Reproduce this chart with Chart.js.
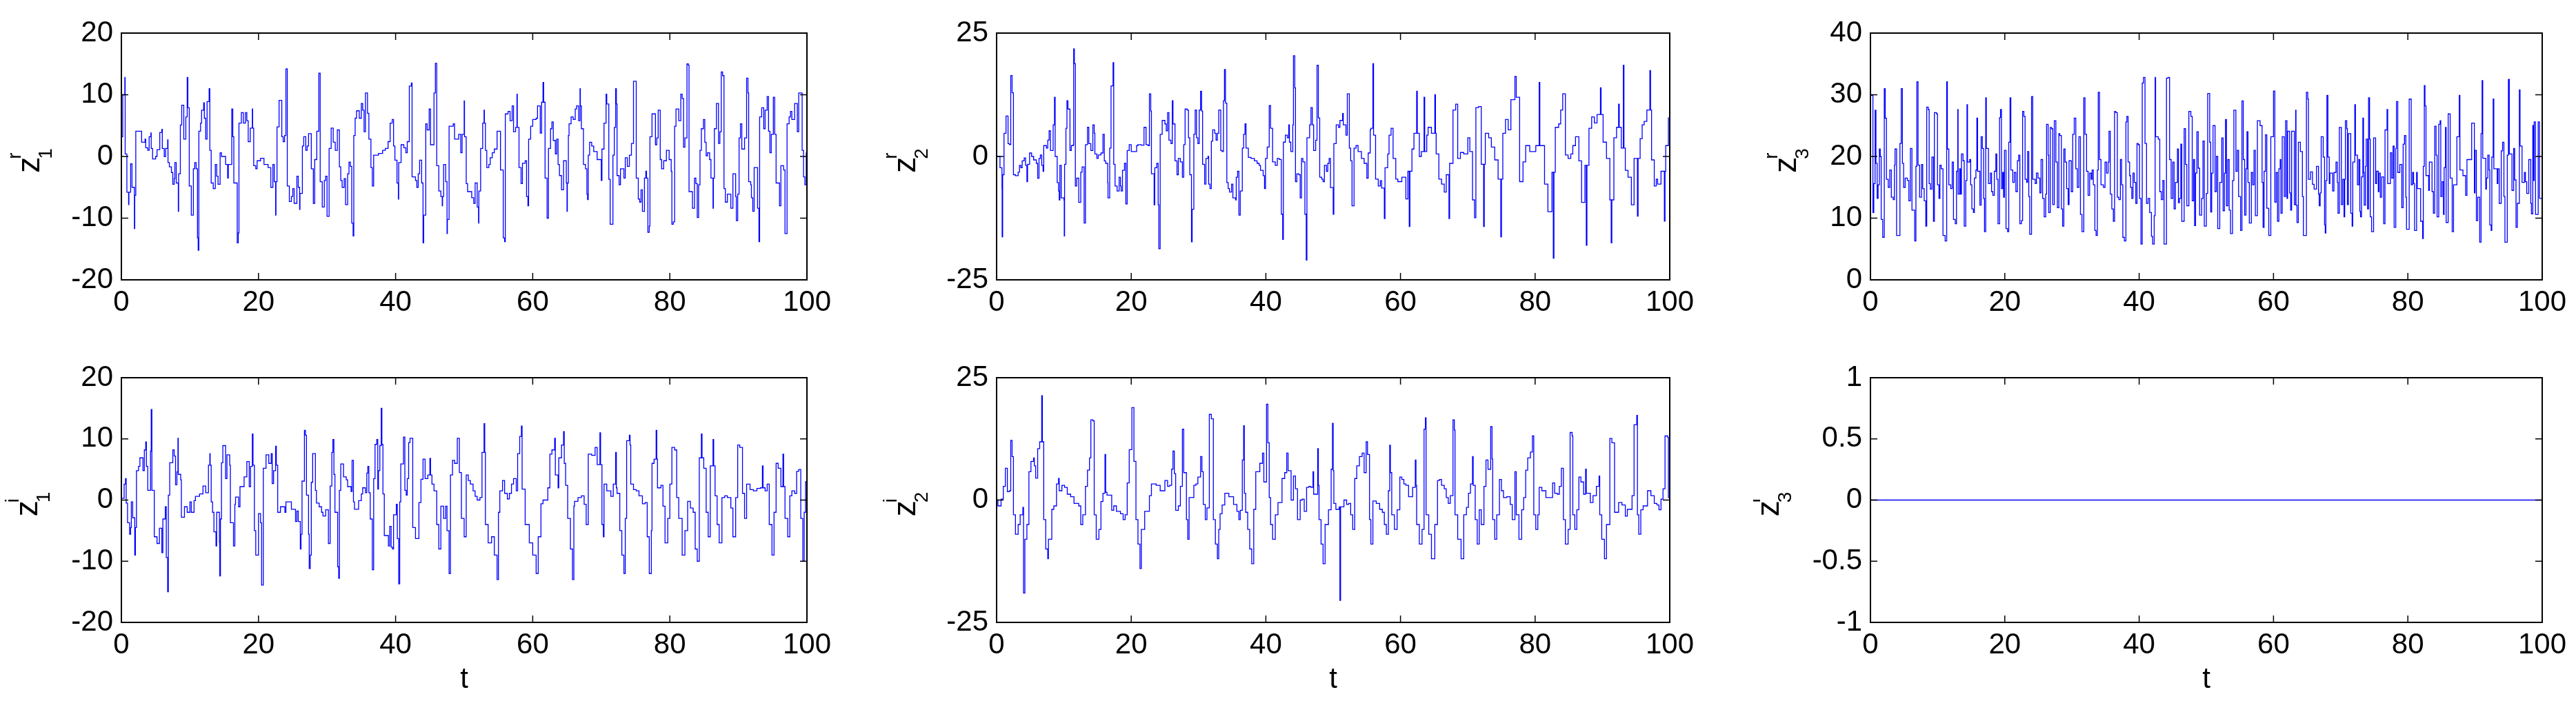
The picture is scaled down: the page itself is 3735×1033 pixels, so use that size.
<!DOCTYPE html>
<html><head><meta charset="utf-8">
<script src="https://cdn.jsdelivr.net/npm/chart.js@4.4.0/dist/chart.umd.min.js"></script>
<style>
html,body{margin:0;padding:0;background:#fff;}
body{width:3735px;height:1033px;position:relative;overflow:hidden;}
canvas{position:absolute;}
</style></head><body>
<script>
// ---------- tick labels ----------
const timeTicks = [0, 20, 40, 60, 80, 100];
const z1rTicks = [-20, -10, 0, 10, 20];
const z2rTicks = [-25, 0, 25];
const z3rTicks = [0, 10, 20, 30, 40];
const z1iTicks = [-20, -10, 0, 10, 20];
const z2iTicks = [-25, 0, 25];
const z3iTicks = [-1, -0.5, 0, 0.5, 1];

// ---------- series: [t, value] at each step change ----------
const z1r = [[0,3.2],[0.2,10],[0.5,12.8],[0.55,0.4],[0.8,-5.8],[1.05,-7.8],[1.1,-5.8],[1.35,-1.2],[1.55,-5],[1.75,-5],[1.9,-11.7],[1.95,-6.3],[2.1,4.1],[2.95,2.3],[3.45,2.8],[3.55,1.4],[3.85,1.0],[4.05,3.2],[4.3,3.8],[4.35,1.3],[4.55,-0.4],[5.0,0],[5.2,1.1],[5.6,3.9],[5.9,4.4],[5.97,1.3],[6.25,0],[6.45,1.3],[6.75,2.7],[6.8,-1],[7.0,-1.7],[7.3,-2.6],[7.5,-4.5],[7.7,-3.6],[7.8,-1],[8.0,-4.3],[8.3,-8.9],[8.35,-2.8],[8.6,5.1],[8.8,8.3],[9.1,2.8],[9.4,6.4],[9.6,12.8],[9.7,7.9],[9.9,-4.8],[10.2,-9.5],[10.5,-2],[10.7,-1],[10.9,-2],[11.1,-13.2],[11.2,-15.2],[11.3,4.1],[11.55,5.4],[11.7,7.5],[12.0,8.7],[12.1,6.2],[12.3,2.8],[12.5,8.9],[12.8,11],[12.9,1],[13.1,-4.3],[13.4,-5.2],[13.7,-1.3],[13.9,-3.2],[14.1,-4.5],[14.4,0.6],[14.6,0],[15.2,-1.3],[15.5,-3.5],[15.6,-1.3],[16.1,7.7],[16.25,3.2],[16.4,-4.3],[16.9,-14],[17.05,-12.4],[17.15,5.4],[17.5,7.1],[17.8,5.4],[18.1,7.1],[18.3,5.8],[18.5,2.4],[18.8,4.6],[19.1,7.7],[19.15,4.6],[19.3,-1.5],[19.6,-2],[19.8,-0.7],[20.3,-0.3],[20.8,-1.3],[21.4,-1.8],[21.8,-5],[22.1,-1.3],[22.3,-4.1],[22.5,-9.5],[22.55,-4.1],[22.7,4.8],[23.0,9.1],[23.4,3.2],[23.6,2.4],[23.8,3.4],[24.0,14.2],[24.2,-4.8],[24.5,-7.3],[24.8,-6.5],[25.0,-5.2],[25.2,-7.6],[25.6,-3.2],[25.8,-5],[26.0,-8.6],[26.05,-6],[26.4,1.7],[26.6,3.2],[26.9,1],[27.1,1.7],[27.3,3.7],[27.7,-2],[28.0,-7.6],[28.2,-0.5],[28.5,4.1],[28.8,13.5],[29.0,-4.1],[29.3,-8.2],[29.6,-3.9],[29.8,-3.2],[30.0,-9.7],[30.3,1.3],[30.6,4.6],[30.9,2.3],[31.2,1.0],[31.5,4.3],[31.8,-1.7],[32.0,-3.9],[32.2,-5],[32.5,-3.6],[32.7,-7.8],[33.0,-2.8],[33.2,-0.9],[33.4,-1.6],[33.6,-10.8],[33.8,-12.9],[33.9,3.4],[34.1,6.2],[34.3,7.4],[34.7,6.2],[35.0,8.6],[35.2,7.5],[35.4,4.0],[35.6,10.3],[35.9,7],[36.1,2.8],[36.4,-1.8],[36.6,-4.8],[36.8,0.2],[37.5,0.5],[38.1,1.0],[38.5,1.3],[38.9,2.4],[39.2,5.4],[39.5,6.0],[39.7,1.7],[39.9,-0.6],[40.2,-4.3],[40.4,-6.9],[40.45,-1],[40.8,1.9],[41.2,1.4],[41.5,0.6],[41.7,2.4],[42.0,11.4],[42.3,11.9],[42.4,-3.3],[42.9,-3.9],[43.1,-5],[43.3,-2.8],[43.5,-0.6],[43.8,-4.3],[44.0,-14],[44.1,-9.5],[44.4,5.3],[44.6,4.3],[44.9,7.7],[45.1,1.9],[45.6,10.3],[45.8,15.1],[46.0,-1.5],[46.3,-5.6],[46.6,-6.5],[46.8,-8],[46.85,-6.5],[47.0,-1.3],[47.3,-4.1],[47.5,-12.5],[47.55,-10.2],[47.8,4.9],[48.4,5.3],[48.6,2.8],[49.2,3.6],[49.5,0.6],[49.7,3.6],[50.0,9],[50.05,3.2],[50.3,-4.4],[50.5,-5.7],[51.1,-6.7],[51.4,-7.6],[51.6,-4.3],[51.9,-8.2],[52.1,-10.8],[52.15,-5.6],[52.4,1.3],[52.7,5.4],[52.9,7.5],[52.95,5.4],[53.1,1],[53.3,-1.8],[53.6,-1.3],[53.8,-0.2],[54.1,0.6],[54.4,1.2],[54.8,4.1],[55.3,-2.2],[55.7,-13.2],[55.9,-13.8],[56.0,6.9],[56.4,7.3],[56.7,5.8],[57.0,8.2],[57.2,4],[57.5,4.7],[57.7,10.1],[57.75,4.7],[58.0,-1.8],[58.3,-4.4],[58.5,-1.1],[58.9,-0.7],[59.1,-6.5],[59.3,-8],[59.4,2.8],[59.7,4.9],[60.0,6],[60.5,6.2],[60.7,8.2],[61.1,3.8],[61.3,8.8],[61.5,12],[61.6,8.8],[61.8,-3.5],[62.1,-10],[62.3,1.3],[62.6,4.5],[62.8,5.6],[63.0,2.6],[63.3,0.4],[63.5,2.8],[63.7,-1.3],[63.9,-3.1],[64.2,-5.4],[64.5,-0.7],[64.9,-4.3],[65.0,-8.9],[65.05,-4.3],[65.2,3.4],[65.3,5.3],[65.6,6.4],[65.9,6],[66.2,7.7],[66.4,8.2],[66.7,5.8],[66.9,11],[66.95,8.2],[67.1,4.5],[67.4,-1.3],[67.7,-2],[67.9,-6.1],[68.0,-7],[68.1,0.2],[68.3,2.3],[68.6,1.7],[68.9,0.8],[69.4,-0.5],[70.0,-3.9],[70.1,1.2],[70.4,5.4],[70.7,10.1],[70.8,8.5],[71.1,-3.7],[71.3,-11],[71.7,0.2],[71.9,4.7],[72.1,11],[72.2,8.5],[72.3,-3.1],[72.6,-4.6],[72.8,-2],[73.3,-3.5],[73.5,-0.2],[73.8,-1.6],[74.1,0.2],[74.4,2.1],[74.7,12.2],[75.1,-3.5],[75.4,-6.9],[75.6,-7.4],[75.8,-5.4],[76.0,-8.9],[76.3,-3.5],[76.5,-2.4],[76.6,-3.5],[76.8,-12.3],[77.0,-11.3],[77.1,3.2],[77.4,6.9],[77.9,1.9],[78.1,3],[78.3,7.5],[78.6,-0.5],[78.8,-2],[79.1,-0.7],[79.5,1],[79.9,-0.5],[80.2,-2.4],[80.3,-11],[80.5,-10.6],[80.7,4.9],[80.9,7.7],[81.3,5.8],[81.6,10.1],[81.8,9.4],[82.0,1.5],[82.2,3],[82.5,15],[82.7,14.8],[82.8,-5.7],[83.3,-8.4],[83.6,-3.5],[83.8,-4.4],[84.0,-9.9],[84.2,-4.6],[84.4,1],[84.6,4.5],[84.9,6],[85.1,2.3],[85.3,0.1],[85.5,0.6],[85.8,-0.5],[86.0,-3.5],[86.3,-8.4],[86.35,-3.5],[86.5,4.5],[86.8,8.6],[87.1,2.1],[87.3,4],[87.5,13.7],[87.7,13.1],[87.9,-5.2],[88.1,-7.4],[88.4,-6.1],[88.9,-8.4],[89.2,-2.8],[89.6,-6.5],[89.7,-10.4],[89.9,-6.1],[90.1,3],[90.3,5.3],[90.5,1.2],[90.9,3],[91.2,12.7],[91.4,10.3],[91.5,-4.1],[91.8,-4.6],[91.9,-6.7],[92.1,-8.9],[92.3,-1.8],[92.8,-8.4],[93.0,-13.8],[93.1,6.4],[93.4,7.9],[93.7,4.5],[93.9,7.5],[94.2,9.7],[94.4,4.1],[94.6,0.6],[94.8,3.6],[95.1,9.6],[95.3,3.6],[95.5,-4.3],[96.0,-8],[96.2,-1.5],[96.6,-2.2],[96.8,-12.5],[97.1,5.3],[97.4,6.4],[97.6,7.3],[97.8,6],[98.2,8.6],[98.6,4],[98.8,10.3],[99.3,1],[99.5,-3.3],[99.7,-4.6],[99.9,0.6],[100,0.6]];

const z2r = [[0,0],[0.5,-2.3],[0.8,-6.5],[0.82,-16.3],[0.9,-3.7],[1.1,4.7],[1.4,8.2],[1.7,2.6],[1.9,2.4],[2.1,16.4],[2.3,12.9],[2.5,-3.7],[2.8,-3.9],[3.2,-3.2],[3.4,-1.8],[3.6,-2.3],[3.8,-0.9],[4.1,-0.3],[4.3,-1.8],[4.5,-5.1],[4.6,-1.6],[4.9,0.7],[5.2,0],[5.5,-0.7],[5.9,-1.4],[6.1,-4.4],[6.3,-0.4],[6.5,0.3],[6.7,-1.8],[6.9,-3.0],[7.0,2.2],[7.4,1.7],[7.6,3.3],[7.8,5.2],[8.0,1.2],[8.4,6.4],[8.6,12],[8.7,0],[9.0,-5.3],[9.2,-7],[9.3,-8.8],[9.4,-1.8],[9.6,-8.4],[10.0,-8.8],[10.05,-16.1],[10.1,-1.6],[10.3,5.7],[10.45,11.3],[10.6,9.6],[10.9,1.2],[11.1,2.2],[11.4,2.4],[11.45,21.8],[11.55,18.8],[11.7,-6],[11.9,-4.4],[12.2,-9.3],[12.5,-3.2],[12.7,-2.1],[13.0,-13.5],[13.2,2.4],[13.5,5.9],[13.7,2.6],[14.0,1.2],[14.3,6.4],[14.5,4.7],[14.6,0.5],[14.9,-0.4],[15.1,0.3],[15.5,0.7],[15.8,4.5],[16.0,-0.9],[16.2,-1.4],[16.5,-5.3],[16.55,-8.4],[16.8,1.7],[17.0,14.3],[17.3,19],[17.4,-1.6],[17.6,-6],[17.9,-7],[18.2,-4.2],[18.4,-6],[18.5,-7],[18.7,-2.8],[19.0,-1.4],[19.2,-9.6],[19.4,1.2],[19.7,2.4],[20.0,1],[20.8,2.2],[21.0,2.4],[21.5,2.3],[21.9,5.9],[22.2,2.4],[22.5,2.2],[22.7,12.7],[22.9,9.2],[23.0,-3.5],[23.4,-9.8],[23.5,-2.3],[23.8,-1.4],[24.0,-9.8],[24.1,-18.7],[24.3,4.5],[24.6,7.3],[25.0,6.6],[25.2,5.2],[25.4,8.9],[25.6,3.3],[25.9,2.6],[26.1,11.3],[26.2,6.6],[26.5,-0.9],[26.8,-3.7],[27.0,-0.4],[27.3,-1.1],[27.6,-4.2],[27.8,2.4],[28.0,9.6],[28.3,9.4],[28.5,3.8],[28.7,-3.7],[28.95,-17.3],[29.05,-10.7],[29.3,4.5],[29.5,9.4],[29.7,3.8],[29.9,2.6],[30.1,9.4],[30.3,13.2],[30.45,9.2],[30.6,-1.6],[30.9,-5.6],[31.1,-0.4],[31.4,0],[31.5,-5.6],[31.7,-6.5],[31.9,3.1],[32.1,5.4],[32.4,4.7],[32.6,3.3],[32.8,4.7],[33.0,9.4],[33.3,1.2],[33.5,1],[33.7,11.3],[33.85,17.6],[34.0,10.8],[34.2,-5.3],[34.4,-6.5],[34.6,-7.2],[34.9,-5.6],[35.1,-8.4],[35.5,-8.8],[35.6,-4.2],[35.8,-3],[36.0,-11.9],[36.2,-7],[36.5,1.7],[36.7,4.5],[36.9,6.6],[37.05,1.7],[37.4,-0.2],[37.8,-0.4],[38.3,-0.9],[38.7,-1.4],[39.0,-1.8],[39.2,-2.8],[39.6,-3.9],[39.8,-6.5],[39.95,-0.4],[40.2,1.9],[40.5,10.3],[40.7,5.7],[41.0,-1.1],[41.4,-1.8],[41.7,-0.4],[42.0,-0.6],[42.3,-11.7],[42.5,-16.8],[42.6,2.9],[42.9,4.3],[43.2,3.8],[43.4,6.4],[43.5,2.9],[43.7,1],[44.0,6.4],[44.1,20.4],[44.3,13.9],[44.4,-5.1],[44.6,-3.5],[44.9,-3.7],[45.1,-8.4],[45.3,-0.4],[45.5,-1.1],[45.8,-11.7],[46.0,-21],[46.1,3.8],[46.5,6.4],[46.7,9.9],[46.9,6.4],[47.1,1.2],[47.4,3.3],[47.6,18.5],[47.8,7.8],[48.0,-4.2],[48.3,-4.6],[48.5,-5.1],[48.7,-1.8],[49.0,-3],[49.2,-1.4],[49.4,-0.4],[49.6,-6.3],[50.0,-11.7],[50.1,2.6],[50.45,6.4],[50.8,5.9],[51.0,7.3],[51.4,8.7],[51.5,6.4],[51.9,4.3],[52.1,12.7],[52.4,1.7],[52.6,-0.9],[52.8,-10],[53.1,1.7],[53.4,2.2],[53.7,1],[54.2,-0.4],[54.6,-1.4],[55.0,-4.4],[55.2,0.7],[55.5,5.4],[55.6,5.7],[55.9,18.8],[56.0,4.3],[56.3,-4.6],[56.7,-6],[57.0,-4.9],[57.2,-6.4],[57.6,-12.6],[57.7,-2.3],[58.1,0.5],[58.3,4.3],[58.6,5.7],[58.9,-0.4],[59.3,-4.6],[59.6,-5.1],[60.2,-4.2],[60.8,-8.6],[61.1,-3],[61.3,-14.2],[61.4,-3],[61.7,1.5],[62.0,4.7],[62.4,13.2],[62.5,4.7],[62.8,0],[63.1,1],[63.5,12],[63.6,1],[63.9,4.3],[64.1,5.9],[64.6,4.7],[65.1,12.5],[65.2,4.7],[65.3,0.5],[65.7,-4.6],[66.1,-5.6],[66.5,-7.2],[66.8,-3.7],[67.2,-12.6],[67.3,-1.4],[67.8,9.4],[68.2,10.6],[68.5,-0.4],[68.9,0.8],[69.4,0.5],[70.0,3.8],[70.3,1],[70.7,-8.8],[71.0,-12.4],[71.2,9.9],[71.6,10.1],[72.0,-1.6],[72.35,-14.2],[72.45,-1.6],[72.6,4.7],[73.1,3.8],[73.5,1.9],[74.0,-0.7],[74.5,-4.6],[74.9,-16.3],[75.0,-4.6],[75.2,4.7],[75.6,7.5],[76.0,5.4],[76.4,11.5],[77.0,16.2],[77.2,12],[77.7,-5.1],[78.2,-1.1],[78.6,2.2],[79.2,1],[80.1,2.2],[80.6,15],[80.7,2.2],[81.4,-5.6],[81.9,-11.2],[82.5,-3.2],[82.7,-20.6],[82.8,-3.2],[83.0,5.9],[83.5,6.6],[83.8,9.4],[84.1,12.7],[84.5,0.3],[84.9,-0.4],[85.3,0.5],[85.6,2.2],[86.0,4],[86.5,-0.9],[86.9,-9.3],[87.4,-1.8],[87.6,-18],[87.7,-1.8],[88.0,5.7],[88.4,8],[88.8,6.8],[89.2,8.5],[89.7,13.9],[89.8,8.5],[90.1,2.9],[90.6,-0.4],[91.1,-8.8],[91.3,-17.5],[91.4,-8.8],[91.7,3.8],[92.1,5.9],[92.4,10.6],[92.5,5.9],[92.8,1.7],[93.1,18.5],[93.2,1.7],[93.4,-2.8],[93.8,-4.2],[94.3,-9.8],[94.7,-0.4],[95.2,-12.1],[95.3,-0.4],[95.6,3.6],[95.9,6.4],[96.2,7.1],[96.6,9.4],[97.05,17.4],[97.15,9.4],[97.3,-0.7],[97.7,-6],[98.0,-4.6],[98.2,-5.6],[98.7,-3],[99.2,-13.1],[99.3,-3],[99.4,2.2],[99.8,7.8],[100,7.8]];

const z3r = [[0,29.9],[0.37,10.9],[0.5,15.6],[0.69,27.5],[0.82,18.9],[1.0,13.2],[1.14,15.4],[1.33,21.2],[1.46,20],[1.6,9.8],[1.83,6.9],[2.06,31],[2.2,26.2],[2.38,16.3],[2.65,15],[2.88,17.8],[3.11,13.4],[3.39,13],[3.57,18.6],[3.66,21.2],[3.89,7.2],[4.39,22.1],[4.58,31],[4.76,18.9],[4.94,15],[5.17,16.5],[5.49,16.1],[5.72,12.8],[5.95,21.3],[6.18,11.3],[6.59,6.3],[6.77,18.4],[6.91,32.1],[7.09,18.6],[7.32,13.4],[7.6,18.7],[7.78,14.8],[8.0,12.8],[8.24,8.7],[8.38,28],[8.6,27.6],[8.74,15.6],[8.92,14.7],[9.15,19.9],[9.38,9.5],[9.52,27.1],[9.84,26.9],[9.98,15.4],[10.2,13.2],[10.34,18.6],[10.53,18],[10.8,7.2],[11.12,6.3],[11.35,32.1],[11.45,21.2],[11.67,15.4],[11.95,14.8],[12.17,19.1],[12.36,9.8],[12.63,9.1],[12.81,17.6],[13.0,27.6],[13.05,13.9],[13.27,18],[13.41,13.9],[13.55,20.4],[13.78,19.3],[13.96,8.7],[14.19,16.1],[14.37,28.4],[14.45,19.1],[14.78,19.5],[14.92,15.4],[15.1,11.5],[15.33,10.9],[15.47,16.5],[15.7,17.8],[15.84,26.2],[15.95,17.6],[16.29,12.1],[16.48,23.2],[16.66,21.3],[16.84,13.2],[16.98,7.8],[17.16,29.5],[17.25,21.3],[17.57,15.6],[17.85,17.3],[18.03,14.3],[18.22,13.7],[18.44,17.6],[18.67,20.4],[18.81,16.3],[18.99,9.1],[19.22,26.3],[19.36,27.6],[19.5,14.8],[19.68,17.4],[19.82,13.4],[19.95,21],[20.18,8.3],[20.41,7.8],[20.59,22.3],[20.78,29.5],[20.9,17.8],[21.19,15.8],[21.42,17.4],[21.65,14.3],[21.88,19.3],[22.06,20.2],[22.24,9.1],[22.47,9.6],[22.65,27.3],[22.84,26.5],[23.02,16.3],[23.25,15.8],[23.39,20.8],[23.57,13.5],[23.71,7.4],[23.98,29.7],[24.16,16.3],[24.53,15.6],[24.71,17.3],[24.94,16.5],[25.22,14.1],[25.4,19.5],[25.63,13.2],[25.86,10.2],[26.09,13.9],[26.22,25.2],[26.45,20.2],[26.54,10.9],[26.77,24.7],[26.96,24.5],[27.14,12.2],[27.37,25.8],[27.6,19.1],[27.83,11.7],[28.05,23.7],[28.19,23.4],[28.42,11.5],[28.6,8.7],[28.79,21.2],[28.97,19.1],[29.2,14.8],[29.43,12.2],[29.57,19.3],[29.89,14.3],[30.11,23.6],[30.34,26.2],[30.57,18],[30.8,15],[31.03,23.2],[31.26,10.6],[31.49,7.8],[31.76,29.5],[31.94,23.6],[32.17,17.6],[32.4,13.7],[32.63,17.3],[32.86,16.3],[33.0,17.8],[33.18,15.4],[33.41,8],[33.59,7.2],[33.78,17.8],[33.91,30.4],[34.1,19.5],[34.32,15.4],[34.69,15],[34.92,19.1],[35.15,17.3],[35.38,19.1],[35.51,24.1],[35.7,13.9],[35.93,11.5],[36.16,9.5],[36.34,27.3],[36.52,27.1],[36.75,13.4],[36.98,13],[37.21,19.5],[37.39,15.4],[37.57,6.9],[37.8,6.3],[38.03,25.6],[38.17,26.5],[38.35,19.1],[38.58,16.9],[38.72,15],[38.9,13.2],[39.08,17.3],[39.27,15.8],[39.5,12.4],[39.68,22.1],[39.86,21.9],[40.05,13.2],[40.27,5.8],[40.46,31.9],[40.64,32.8],[40.87,22.1],[41.1,12.4],[41.33,13.2],[41.56,10.9],[41.83,7.05],[42.01,5.8],[42.24,10.4],[42.38,32.8],[42.45,23.2],[42.84,22.8],[43.07,14.3],[43.3,13],[43.52,16.1],[43.71,5.8],[43.89,5.8],[44.07,32.7],[44.3,32.8],[44.53,19.5],[44.76,13.2],[45.0,19.1],[45.2,11.5],[45.4,15.8],[45.7,21.2],[45.85,12.5],[46.0,13.2],[46.2,22],[46.35,9.5],[46.7,24.5],[46.9,18.7],[47.1,12],[47.4,27.3],[47.7,26.5],[47.9,12.8],[48.1,19.5],[48.25,8.8],[48.4,17.3],[48.6,24],[48.8,18.1],[49.0,10.5],[49.3,13.2],[49.5,22.5],[49.7,8.7],[50.0,14],[50.2,30.2],[50.5,22.3],[50.65,11],[50.8,17.3],[51.0,25],[51.3,14.3],[51.5,20],[51.7,8.3],[52.0,15.8],[52.3,23],[52.5,11.2],[52.7,17.3],[52.85,26],[53.0,12],[53.2,19.5],[53.4,11.3],[53.6,7.5],[53.9,16.1],[54.1,27.5],[54.4,17.6],[54.6,21],[54.8,13.5],[55.1,8],[55.3,29],[55.5,19.5],[55.7,10.5],[55.9,18],[56.05,24],[56.2,15.8],[56.4,9.2],[56.7,17.4],[56.9,15.4],[57.1,21],[57.3,10.4],[57.6,25.8],[58.0,25],[58.3,15.8],[58.45,8.5],[58.6,17.6],[58.8,23.5],[59.0,11.6],[59.3,7.2],[59.6,23.2],[60.0,30.6],[60.2,12.6],[60.4,17.4],[60.6,9.5],[60.8,18],[61.0,19.5],[61.1,10.8],[61.3,23.2],[61.6,13.5],[61.8,25.8],[62.0,13.2],[62.1,24.1],[62.4,14.1],[62.55,11.3],[62.7,24.1],[63.1,12.2],[63.3,27.5],[63.35,12.1],[63.5,9.3],[63.7,22.3],[64.0,20.8],[64.3,13.5],[64.45,7.2],[64.9,30.4],[65.1,29.3],[65.2,16.3],[65.5,17.5],[65.8,15.5],[66.05,14.7],[66.4,18.4],[66.7,13.9],[66.8,12],[66.95,14.1],[67.1,23.2],[67.4,19.9],[67.6,8.9],[67.7,7.6],[67.8,16.1],[67.95,29.9],[68.1,19.9],[68.3,15.6],[68.4,17.3],[68.8,14.4],[69.0,17.4],[69.3,19.1],[69.5,15.8],[69.6,10.8],[69.8,24.7],[70.1,12.2],[70.3,16.3],[70.5,10.2],[70.6,16.3],[70.7,25.8],[70.9,24.5],[71.0,12.2],[71.15,23.7],[71.5,10.8],[71.7,8.7],[71.8,19.1],[72.1,28.4],[72.2,20.2],[72.5,15.4],[72.7,19.5],[72.85,11.1],[72.95,10.2],[73.1,16.7],[73.3,26.2],[73.4,17.4],[73.5,12.1],[73.7,18.4],[73.8,22.8],[74.0,11.5],[74.15,29.5],[74.3,22.8],[74.4,10.2],[74.6,7.8],[74.9,23],[75.2,15.6],[75.35,17.6],[75.6,14.3],[75.7,17.3],[75.9,13.4],[76.1,16.7],[76.4,9.1],[76.6,24.3],[76.9,27.6],[77.0,15.6],[77.4,20.6],[77.6,16.5],[77.8,21.7],[77.96,8.5],[78.2,21.3],[78.3,28.9],[78.5,17.4],[78.8,18.7],[79.1,11.7],[79.3,22],[79.5,23.4],[79.7,13.4],[79.8,8.2],[80.2,29.3],[80.5,15.4],[80.7,17.4],[80.85,15.6],[81.0,8],[81.3,17.4],[81.4,14.8],[81.9,9.5],[82.2,6.7],[82.3,18.4],[82.45,31.5],[82.55,28.2],[82.7,16.9],[83.1,14.5],[83.2,19.1],[83.6,14.3],[83.8,10.8],[84.0,24.9],[84.2,20.2],[84.35,10.2],[84.6,25.2],[84.8,25.8],[84.9,13.5],[85.1,15.9],[85.3,10.6],[85.4,18.2],[85.6,24.7],[85.7,9.3],[86.0,26.9],[86.3,16.5],[86.6,7.8],[86.8,15.4],[87.3,23.2],[87.65,29.9],[87.75,17.8],[88.2,16.9],[88.6,13.7],[88.8,19.5],[89.5,25.4],[89.9,14.1],[90.0,21],[90.2,9.6],[90.4,13.4],[90.7,6.1],[90.9,23.7],[91.05,32.3],[91.15,19.7],[91.6,14.7],[91.7,16.5],[91.9,20.2],[92.1,17.8],[92.2,8.9],[92.4,8],[92.5,19.9],[92.7,29.3],[92.8,18],[93.3,15.6],[93.4,18],[93.6,12.4],[93.9,20.9],[94.1,22.3],[94.3,13.5],[94.45,6.1],[94.8,20.2],[94.97,32.5],[95.1,20.4],[95.5,14.5],[95.75,21.3],[95.9,16.2],[96.1,8.5],[96.3,12.4],[96.6,30.8],[96.7,21.7],[97.0,15.8],[97.35,17.4],[97.5,15.9],[97.7,14],[98.0,19.5],[98.3,12.4],[98.4,10.7],[98.6,25],[98.7,16.1],[98.8,25.6],[99.0,10.6],[99.4,25.6],[99.6,13.2],[100,13.2]];

const z1i = [[0,0.3],[0.4,2.6],[0.6,3.5],[0.7,-0.5],[0.9,-3.7],[1.2,-5.6],[1.35,-4.5],[1.45,-0.3],[1.65,-2.9],[1.95,-9],[2.05,-4.5],[2.2,4.8],[2.5,5.5],[2.7,6.9],[3.15,4.8],[3.35,8.2],[3.55,9.5],[3.65,5.5],[3.85,1.6],[4.25,8],[4.35,14.8],[4.45,1.6],[4.8,-6],[5.2,-7.1],[5.55,-4.6],[5.9,-8.6],[6.05,-3.1],[6.4,-1.1],[6.55,-9.4],[6.75,-15],[6.85,0.8],[7.05,6.1],[7.5,8.2],[7.7,7.2],[7.9,2.5],[8.1,4.6],[8.25,10.1],[8.3,4.2],[8.65,3.3],[8.75,-2.8],[9.2,-1.1],[9.6,-2],[10.0,-0.3],[10.2,-2],[10.6,-0.1],[10.8,0.6],[11.4,1],[11.9,2.3],[12.3,1.2],[12.7,5.7],[12.9,7.6],[12.95,5.7],[13.1,-0.3],[13.3,-2],[13.5,-5.2],[13.8,-7.5],[13.9,-2],[14.3,-6.9],[14.35,-12.4],[14.45,-3.1],[14.6,6.1],[14.8,8.9],[15.2,3.5],[15.4,7.4],[15.8,5.7],[15.9,-3.7],[16.35,-7.5],[16.55,-0.7],[16.65,0.5],[17.1,-1.1],[17.3,2.2],[17.9,3.8],[18.3,6.3],[18.65,2.2],[18.85,5.5],[19.1,10.8],[19.2,5.7],[19.4,-5],[19.6,-9],[20.0,-2.2],[20.3,-3.7],[20.45,-13.9],[20.7,5.2],[21.1,7.4],[21.5,6],[21.85,7.6],[22.0,2.7],[22.2,4.8],[22.5,8.8],[22.6,5.7],[22.8,-2],[23.2,-1.1],[23.85,-2],[24.0,-0.3],[24.8,-1.5],[25.4,-3.5],[25.6,-1.8],[25.8,-3.5],[26.1,-8],[26.2,-5.6],[26.35,3.1],[26.7,11.4],[26.85,10.6],[27.0,0.8],[27.3,-5.6],[27.4,-11.2],[27.55,-9],[27.7,2.9],[27.9,7.6],[28.3,1.6],[28.45,-0.5],[28.85,-1.1],[29.2,-2],[29.4,-2.6],[29.8,-1.6],[30.2,-7.1],[30.45,2.3],[30.7,7.8],[30.85,9.9],[31.0,4.2],[31.15,-2],[31.55,-10.9],[31.7,-12.8],[31.8,1.6],[32.0,5.9],[32.4,3.8],[32.8,3.3],[33.0,2.2],[33.5,1.4],[33.65,6.5],[33.85,-0.3],[34.0,-1.5],[34.6,-0.1],[35.0,1],[35.2,2],[35.6,1.2],[35.8,4.4],[35.95,5.5],[36.1,1.2],[36.3,-3.1],[36.6,-11.4],[36.8,3.5],[37.0,9.1],[37.25,9.9],[37.4,1.8],[37.5,4.8],[37.7,8.9],[37.9,15],[38.0,9.1],[38.15,1],[38.35,-5.8],[38.95,-7.5],[39.15,-4.3],[39.35,-7.7],[39.55,-8],[39.7,-2.4],[40.1,-0.7],[40.25,-6.3],[40.45,-13.7],[40.6,-0.3],[40.75,5.9],[41.15,10.3],[41.35,1.6],[41.55,0.8],[41.7,3.5],[41.9,9.4],[42.1,10.1],[42.5,-4.5],[42.9,-6.3],[43.4,-0.4],[43.7,3.4],[44.0,6.7],[44.3,3.5],[44.7,4.1],[45.0,6.8],[45.1,4.1],[45.3,2.6],[45.6,1.5],[46.0,-4],[46.3,-8],[46.6,-1],[47.0,-3],[47.3,-1],[47.5,-5],[47.8,-12],[48.0,4.1],[48.3,6.5],[48.6,6],[49.0,10.1],[49.3,4.5],[49.6,-3],[50.0,-6],[50.3,4.1],[50.6,3.2],[50.9,2.6],[51.3,1.5],[51.6,0.6],[51.9,0],[52.3,0.4],[52.6,7.8],[52.9,12.5],[53.0,7.8],[53.1,-4],[53.5,-7],[54.0,-6],[54.4,-9],[54.8,-13],[55.0,-2],[55.2,1.5],[55.6,3.2],[55.9,1.1],[56.3,0.2],[56.6,1.1],[56.9,2.6],[57.2,3.5],[57.6,1.5],[57.8,7.6],[58.1,10.4],[58.35,12.1],[58.45,1.8],[58.9,-4],[59.5,-7],[60.0,-9],[60.5,-12],[60.8,-6],[61.2,-0.6],[61.5,0],[62.2,2],[62.5,7.5],[62.8,8.2],[63.2,10.1],[63.3,4.1],[63.7,2],[63.8,6.9],[64.2,9],[64.5,11.2],[64.6,6],[64.8,2.4],[65.1,-3],[65.5,-8],[65.8,-13],[66.0,-1],[66.1,-0.2],[66.6,0.4],[67.1,0.7],[67.5,-0.7],[67.8,-4],[68.1,7.5],[68.6,7.3],[69.1,8.6],[69.4,5.8],[69.8,11],[69.9,5.8],[70.1,-4],[70.3,-6],[70.4,2.6],[70.8,1.5],[71.4,0.6],[71.75,2.6],[72.1,7.8],[72.2,2],[72.3,1.1],[72.7,-5],[73.0,-9],[73.3,-12],[73.5,-3],[73.7,9.7],[74.1,10.6],[74.2,9],[74.3,2.6],[74.7,1.7],[75.1,1.5],[75.5,0.7],[76.0,-0.6],[76.4,-0.4],[76.7,-6],[77.0,-12],[77.3,-5],[77.4,6],[77.7,6.7],[78.0,11.4],[78.1,6.7],[78.2,2],[78.7,2.4],[79.0,-1],[79.3,-7],[79.7,-3],[80.0,2.6],[80.3,8.6],[80.7,8.2],[81.0,0.4],[81.3,-3],[81.8,-9],[82.2,-5],[82.6,-0.2],[83.0,-1.3],[83.4,-2],[83.7,-8],[84.0,-10],[84.3,6.9],[84.6,10.8],[84.7,6.9],[84.95,5.2],[85.3,-2],[85.6,-6],[85.9,5.6],[86.3,9.9],[86.4,5.6],[86.6,0.7],[86.9,-4],[87.2,-7],[87.6,0.4],[88.0,0.7],[88.4,0.4],[88.9,-1.3],[89.2,-6],[89.6,0.4],[89.9,9],[90.2,8.6],[90.6,1.1],[90.9,-3],[91.2,2.6],[91.7,1.7],[92.2,1.5],[92.7,1.9],[93.2,2],[93.5,5.6],[93.6,2],[93.9,1.5],[94.2,2.6],[94.5,-4],[94.9,-9],[95.2,-2],[95.5,6],[95.8,5.2],[96.2,2.2],[96.5,7.5],[96.6,2.2],[96.8,-3],[97.2,-6],[97.5,0.7],[97.8,1.5],[98.2,1.1],[98.5,4.7],[98.8,5],[99.1,-3],[99.4,-10],[99.6,-2],[99.8,3],[100,3]];

const z2i = [[0,0],[0.2,-1.2],[0.66,0.2],[1.0,2.8],[1.3,6.5],[1.6,1.7],[1.9,1.9],[2.1,12.2],[2.3,8.9],[2.5,-3],[2.8,-7],[3.2,-5],[3.5,-3],[3.9,-1.5],[4.0,-19],[4.2,-8],[4.5,-5],[4.8,5.8],[5.1,7.9],[5.5,8.6],[5.6,7],[5.8,4.5],[6.1,10.5],[6.4,11.9],[6.7,21.3],[6.8,11.9],[7.0,-4],[7.3,-10],[7.6,-12],[7.7,-8],[8.2,-1.9],[8.5,-1.2],[8.9,3.3],[9.2,4.4],[9.3,1.9],[9.7,3],[10.1,2.6],[10.5,1.2],[11.0,0.7],[11.5,-0.7],[12.2,-1.2],[12.5,-5],[12.8,-3],[13.2,2.8],[13.5,6.1],[13.8,8.6],[14.0,16.4],[14.3,16.2],[14.5,-3],[14.8,-8],[15.2,-6],[15.5,-0.3],[15.8,1.4],[16.1,9.3],[16.2,1.6],[16.4,1],[17.1,-2.1],[17.4,-1.2],[17.8,-2.3],[18.4,-2.8],[18.8,-4],[19.1,-3],[19.4,3.5],[19.7,10.3],[20.1,18.9],[20.4,7.9],[20.7,-4],[21.0,-9],[21.3,-14],[21.5,-6],[22.0,-2.3],[22.7,0.9],[23.0,3.3],[23.7,3],[24.3,1.9],[25.0,4],[25.4,2.8],[25.7,3],[26.0,6.3],[26.2,10],[26.4,5.4],[26.6,-2.1],[27.0,-1.2],[27.3,2.8],[27.6,14.5],[27.8,5.6],[28.2,-4],[28.4,-8],[28.6,0.5],[29.3,3],[29.6,3.3],[29.9,4.7],[30.3,8.9],[30.5,5.8],[30.7,-0.9],[31.0,-4],[31.25,-1.6],[31.6,17.5],[31.9,16.6],[32.2,-4],[32.5,-9],[32.8,-12],[33.0,-6],[33.2,-2.8],[33.5,-1],[33.9,1.4],[34.5,0.7],[35.2,-0.9],[35.7,-2.3],[36.0,-4],[36.2,-2.1],[36.5,8.2],[36.7,15.2],[36.8,1.4],[37.0,-2.5],[37.3,-6],[37.6,-10],[37.9,-13],[38.2,-1.9],[38.5,5.8],[39.1,7.5],[39.5,9.6],[39.7,3.7],[40.1,19.6],[40.3,11.7],[40.5,0.5],[40.7,-5],[41.0,-8],[41.4,-3],[41.8,-0.5],[42.4,4.4],[42.8,5.6],[43.1,9.6],[43.3,6],[43.75,0],[44.1,4.9],[44.4,2.3],[44.7,-4],[45.1,0],[45.4,0.2],[45.7,-2.3],[46.05,2.6],[46.4,2.8],[46.7,2.6],[47.0,5.8],[47.1,1.2],[47.7,10.5],[47.8,3],[47.9,-4],[48.2,-9],[48.5,-13],[48.8,-5],[49.3,-2],[49.7,6.3],[49.9,15.7],[50.0,6],[50.1,-0.7],[50.4,-1.9],[50.9,-1.4],[51.0,-20.5],[51.1,-1.4],[51.6,0],[52.0,-0.9],[52.3,-0.7],[52.6,-3],[52.9,-6],[53.2,4.4],[53.5,7],[53.9,8.9],[54.3,9.6],[54.6,5.6],[54.9,11.9],[55.1,9.3],[55.4,-4],[55.6,-9],[55.9,-0.2],[56.4,-0.7],[56.9,-1.9],[57.3,-2.5],[57.6,-5],[57.9,-7],[58.2,1.9],[58.4,11.2],[58.5,5.6],[58.7,-3],[59.1,-6],[59.5,-2],[59.9,4.7],[60.2,4.2],[60.5,3.3],[60.8,3],[61.2,0.7],[61.8,2.6],[62.2,8.2],[62.3,3],[62.4,-5],[62.8,-9],[63.2,-6],[63.5,14.5],[63.7,16.8],[63.8,-3],[64.2,-7],[64.6,-12],[65.1,-5],[65.5,4],[65.8,4.2],[66.1,3.0],[66.5,2.3],[66.8,0.5],[67.1,-0.7],[67.4,0.9],[67.8,16.4],[68.0,14.3],[68.1,-3],[68.5,-8],[69.0,-12],[69.4,-3],[69.8,-1.5],[70.1,1.4],[70.4,3.3],[70.7,8.9],[70.8,3],[71.1,-4],[71.4,-9],[71.7,-2],[72.0,-5],[72.4,2.8],[72.7,8.2],[73.0,6.3],[73.4,15],[73.6,8.4],[73.7,-4],[74.0,-8],[74.3,-3],[74.7,4.2],[75.0,1.9],[75.3,0.5],[75.8,0.7],[76.3,-0.9],[76.6,-4],[77.0,5.8],[77.2,-3],[77.6,-8],[78.0,-2],[78.3,0.5],[78.6,6.1],[78.9,8.6],[79.3,9.8],[79.6,13.1],[79.8,-3],[80.1,-6],[80.4,-3],[80.6,2.6],[81.0,1.9],[81.6,0.5],[82.6,3.5],[82.9,1.4],[83.3,1.2],[83.6,2.8],[83.9,6.5],[84.2,-4],[84.5,-9],[84.9,-6],[85.2,13.8],[85.5,13.1],[85.6,-3],[85.9,-6],[86.2,-2],[86.5,4.7],[86.8,3.7],[87.2,1.2],[87.5,6.3],[87.6,1.4],[88.2,-0.5],[88.6,0.9],[89.1,2.8],[89.5,4.9],[89.6,-3],[89.9,-8],[90.3,-12],[90.6,-5],[91.1,12.6],[91.4,11.7],[91.8,-2.5],[92.4,-0.5],[92.9,-1],[93.4,-3.3],[93.7,-1.9],[94.4,0.9],[94.7,15.4],[95.1,17.3],[95.2,-3],[95.4,-7],[95.7,-2],[96.05,-1.2],[96.7,1.9],[97.2,0.9],[97.7,-0.7],[98.1,-1],[98.4,-2],[98.7,0.2],[99.0,2.3],[99.3,13.1],[99.7,12.8],[99.8,0.5],[100,0.5]];

const z3i = [[0,0],[100,0]];

// ---------- layout (page pixels of each plot box) ----------
const FONT = '"Liberation Sans", Arial, Helvetica, sans-serif';
const PAD_L = 170, PAD_T = 45, PAD_R = 60, PAD_B = 130;
const panels = [
  {series: z1r, yTicks: z1rTicks, L: 176,  T: 48,  R: 1170, B: 406, sup: 'r', sub: '1', lab: 119, xt: ''},
  {series: z2r, yTicks: z2rTicks, L: 1445, T: 48,  R: 2421, B: 406, sup: 'r', sub: '2', lab: 118, xt: ''},
  {series: z3r, yTicks: z3rTicks, L: 2712, T: 48,  R: 3686, B: 406, sup: 'r', sub: '3', lab: 108, xt: ''},
  {series: z1i, yTicks: z1iTicks, L: 176,  T: 548, R: 1170, B: 903, sup: 'i', sub: '1', lab: 122, xt: 't'},
  {series: z2i, yTicks: z2iTicks, L: 1445, T: 548, R: 2421, B: 903, sup: 'i', sub: '2', lab: 118, xt: 't'},
  {series: z3i, yTicks: z3iTicks, L: 2712, T: 548, R: 3686, B: 903, sup: 'i', sub: '3', lab: 133, xt: 't'}
];

const matlabAxes = {
  id: 'matlabAxes',
  afterDatasetsDraw(chart, args, o) {
    const ctx = chart.ctx, a = chart.chartArea;
    const xs = chart.scales.x, ys = chart.scales.y;
    ctx.save();
    ctx.strokeStyle = '#000';
    ctx.lineWidth = 2;
    ctx.strokeRect(a.left, a.top, a.right - a.left, a.bottom - a.top);
    ctx.lineWidth = 1.5;
    ctx.beginPath();
    xs.ticks.forEach(t => {
      const p = xs.getPixelForValue(t.value);
      ctx.moveTo(p, a.bottom); ctx.lineTo(p, a.bottom - 10);
      ctx.moveTo(p, a.top); ctx.lineTo(p, a.top + 10);
    });
    ys.ticks.forEach(t => {
      const p = ys.getPixelForValue(t.value);
      ctx.moveTo(a.left, p); ctx.lineTo(a.left + 10, p);
      ctx.moveTo(a.right, p); ctx.lineTo(a.right - 10, p);
    });
    ctx.stroke();
    ctx.restore();

    // y label: z with stacked superscript / subscript, rotated
    ctx.save();
    ctx.fillStyle = '#000';
    ctx.translate(a.left - o.lab, (a.top + a.bottom) / 2);
    ctx.rotate(-Math.PI / 2);
    ctx.textBaseline = 'alphabetic';
    ctx.textAlign = 'left';
    ctx.font = '46px ' + FONT;
    const zw = ctx.measureText('z').width;
    ctx.font = '28px ' + FONT;
    const sw = Math.max(ctx.measureText(o.sup).width, ctx.measureText(o.sub).width);
    const total = zw - 3 + sw;
    const u0 = -total / 2 - 6;
    ctx.font = '46px ' + FONT;
    ctx.fillText('z', u0, 0);
    ctx.font = '28px ' + FONT;
    ctx.fillText(o.sup, u0 + zw - 3, -27);
    ctx.fillText(o.sub, u0 + zw - 3, 18);
    ctx.restore();

    if (o.xt) {
      ctx.save();
      ctx.fillStyle = '#000';
      ctx.font = '42px ' + FONT;
      ctx.textAlign = 'center';
      ctx.textBaseline = 'alphabetic';
      ctx.fillText(o.xt, (a.left + a.right) / 2, a.bottom + 95);
      ctx.restore();
    }
  }
};

panels.forEach((p, i) => {
  const cv = document.createElement('canvas');
  const w = (p.R - p.L) + PAD_L + PAD_R;
  const h = (p.B - p.T) + PAD_T + PAD_B;
  cv.width = w; cv.height = h;
  cv.style.left = (p.L - PAD_L) + 'px';
  cv.style.top = (p.T - PAD_T) + 'px';
  cv.style.width = w + 'px'; cv.style.height = h + 'px';
  document.body.appendChild(cv);

  const tickFont = {family: FONT, size: 42};
  new Chart(cv, {
    type: 'line',
    data: {
      datasets: [{
        data: p.series.map(([t, v]) => ({x: t, y: v})),
        borderColor: '#0000ff',
        borderWidth: 1.3,
        pointRadius: 0,
        stepped: true,
        fill: false,
        tension: 0
      }]
    },
    options: {
      responsive: false,
      animation: false,
      devicePixelRatio: 1,
      events: [],
      layout: {padding: {top: PAD_T, right: PAD_R, left: 0, bottom: 0}},
      plugins: {
        legend: {display: false},
        tooltip: {enabled: false},
        matlabAxes: {lab: p.lab, sup: p.sup, sub: p.sub, xt: p.xt}
      },
      scales: {
        x: {
          type: 'linear', min: 0, max: 100,
          afterBuildTicks: s => { s.ticks = timeTicks.map(v => ({value: v})); },
          afterFit: s => { s.height = PAD_B; },
          grid: {display: false, drawTicks: false},
          border: {display: false},
          ticks: {padding: 8, font: tickFont, color: '#000', maxRotation: 0, autoSkip: false,
                  callback: v => String(v)}
        },
        y: {
          type: 'linear', min: p.yTicks[0], max: p.yTicks[p.yTicks.length - 1],
          afterBuildTicks: s => { s.ticks = p.yTicks.map(v => ({value: v})); },
          afterFit: s => { s.width = PAD_L; },
          grid: {display: false, drawTicks: false},
          border: {display: false},
          ticks: {padding: 12, font: tickFont, color: '#000', autoSkip: false,
                  callback: v => String(v)}
        }
      }
    },
    plugins: [matlabAxes]
  });
});
</script>
</body></html>
